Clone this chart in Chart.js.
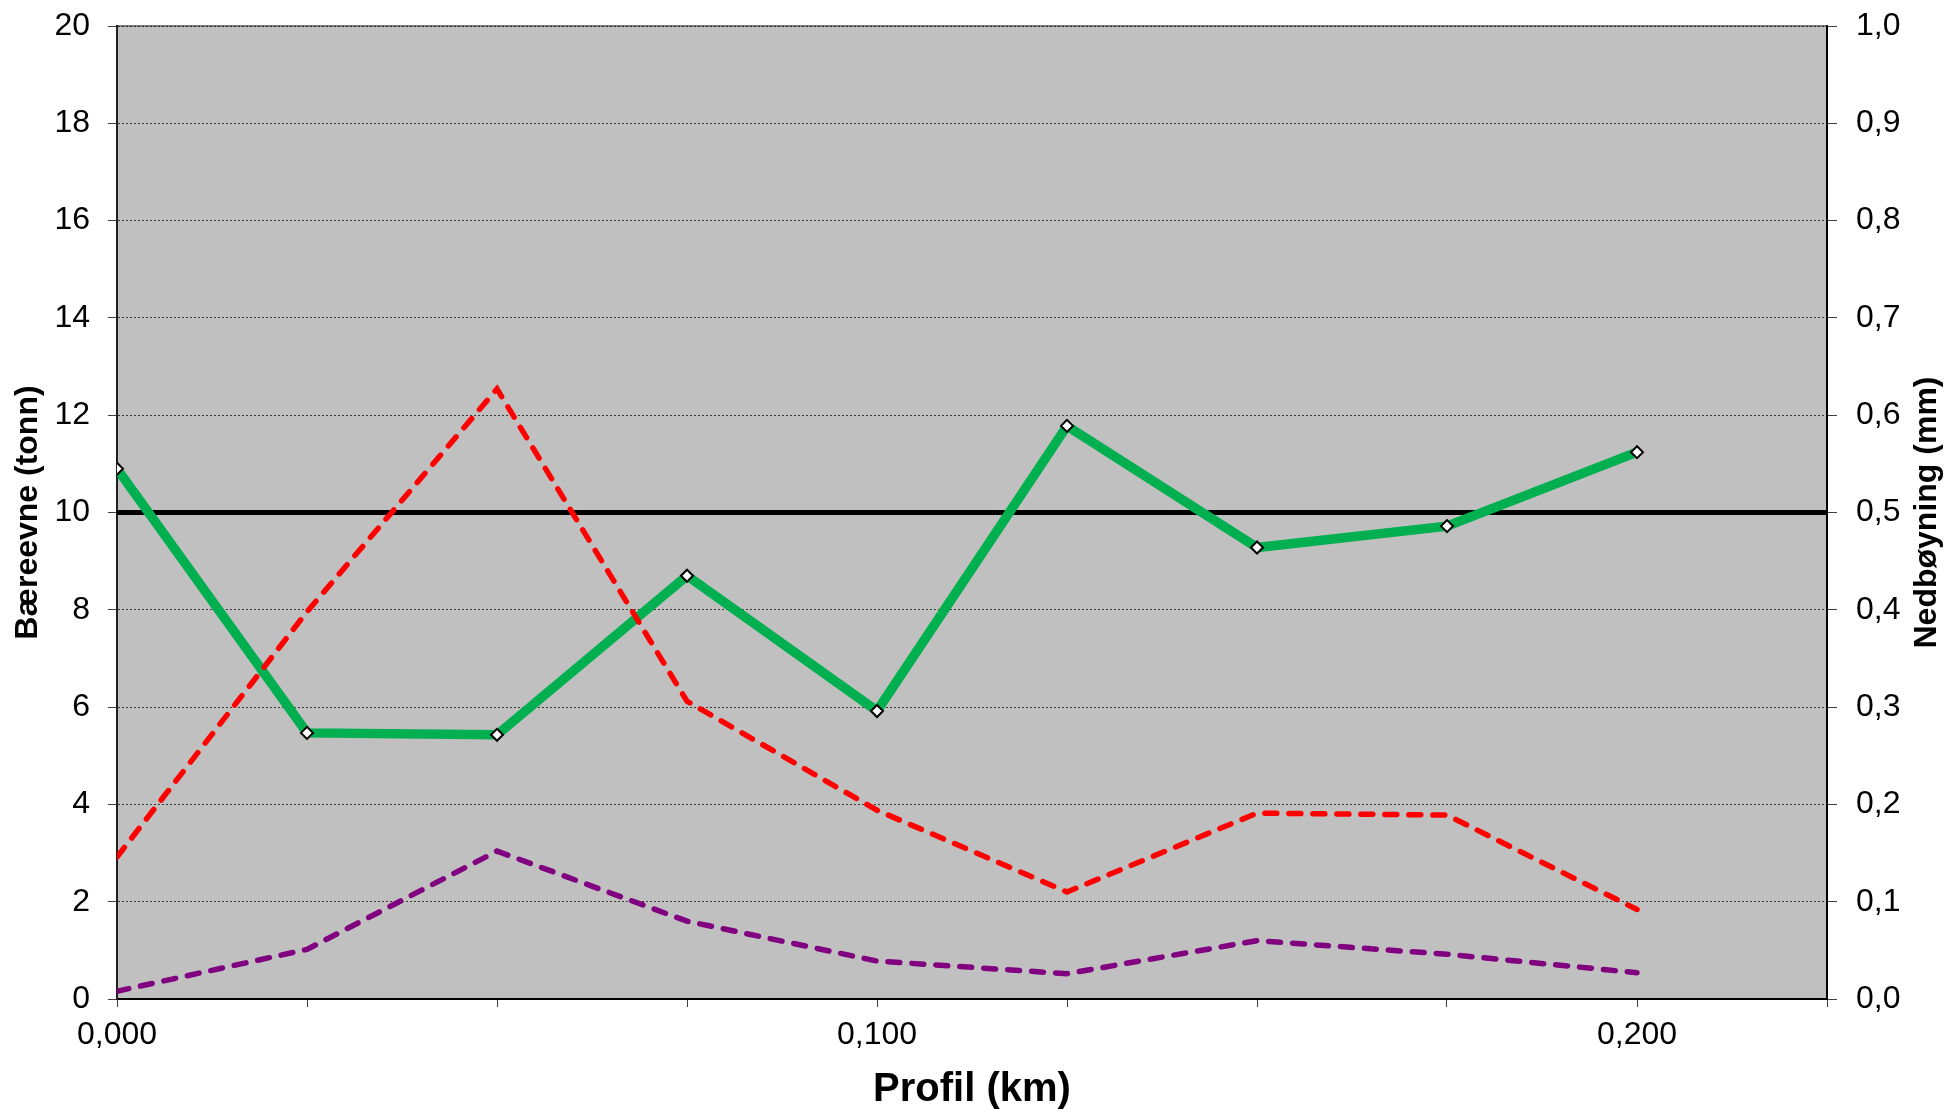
<!DOCTYPE html>
<html>
<head>
<meta charset="utf-8">
<script src="https://cdn.jsdelivr.net/npm/chart.js@4.4.1/dist/chart.umd.min.js"></script>
<style>
  html, body { margin: 0; padding: 0; background: #fff; }
  canvas { display: block; }
</style>
</head>
<body>
<canvas id="chart" width="1951" height="1114"></canvas>
<script>
// profile positions (km)
const profil = [0, 0.025, 0.05, 0.075, 0.1, 0.125, 0.15, 0.175, 0.2];
// bearing capacity, tonn (left axis)
const baereevne = [10.9, 5.47, 5.43, 8.7, 5.92, 11.78, 9.28, 9.72, 11.24];
// deflections, mm (right axis)
const nedboyningRod = [0.146, 0.398, 0.627, 0.306, 0.194, 0.110, 0.191, 0.189, 0.092];
const nedboyningLilla = [0.008, 0.051, 0.152, 0.080, 0.039, 0.026, 0.060, 0.046, 0.027];
// limit line at 10 tonn
const grenseX = [0, 0.225];
const grenseY = [10, 10];

const xTitle = 'Profil (km)';
const leftTitle = 'Bæreevne (tonn)';
const rightTitle = 'Nedbøyning (mm)';

const FONT = "'Liberation Sans', Arial, sans-serif";
Chart.defaults.font.family = FONT;
Chart.defaults.color = '#000';

function pts(xs, ys) {
    return xs.map(function(x, i) { return {x: x, y: ys[i]}; });
}

// keep tick label overflow from pushing the plot area around
function noPad(s) {
    s.paddingTop = 0;
    s.paddingBottom = 0;
    s.paddingLeft = 0;
    s.paddingRight = 0;
}

const plotBg = {
    id: 'plotBg',
    beforeDraw(chart) {
        const a = chart.chartArea;
        const ctx = chart.ctx;
        ctx.save();
        ctx.fillStyle = '#c0c0c0';
        ctx.fillRect(a.left, a.top, a.right - a.left, a.bottom - a.top);
        ctx.strokeStyle = '#808080';
        ctx.lineWidth = 2;
        ctx.strokeRect(a.left, a.top, a.right - a.left, a.bottom - a.top);
        ctx.restore();
    },
    afterDraw(chart) {
        // right axis title reads bottom to top
        const a = chart.chartArea;
        const ctx = chart.ctx;
        ctx.save();
        ctx.translate(chart.width - 24, (a.top + a.bottom) / 2);
        ctx.rotate(-Math.PI / 2);
        ctx.font = 'bold 32px ' + FONT;
        ctx.fillStyle = '#000';
        ctx.textAlign = 'center';
        ctx.textBaseline = 'middle';
        ctx.fillText(rightTitle, 0, 0);
        ctx.restore();
    }
};

new Chart(document.getElementById('chart'), {
    type: 'line',
    data: {
        datasets: [{
            label: 'Nedbøyning 1',
            data: pts(profil, nedboyningRod),
            yAxisID: 'y2',
            borderColor: '#ff0000',
            borderWidth: 5.5,
            borderDash: [12, 12],
            borderCapStyle: 'round',
            pointRadius: 0,
            order: 0
        }, {
            label: 'Nedbøyning 2',
            data: pts(profil, nedboyningLilla),
            yAxisID: 'y2',
            borderColor: '#800080',
            borderWidth: 5.5,
            borderDash: [12, 12],
            borderCapStyle: 'round',
            pointRadius: 0,
            order: 1
        }, {
            label: 'Bæreevne',
            data: pts(profil, baereevne),
            yAxisID: 'y',
            borderColor: '#00b050',
            borderWidth: 9.5,
            pointStyle: 'rectRot',
            pointRadius: 6,
            pointBackgroundColor: '#ffffff',
            pointBorderColor: '#000000',
            pointBorderWidth: 2,
            order: 2
        }, {
            label: 'Grense',
            data: pts(grenseX, grenseY),
            yAxisID: 'y',
            borderColor: '#000000',
            borderWidth: 5,
            pointRadius: 0,
            order: 3
        }]
    },
    options: {
        responsive: false,
        animation: false,
        layout: { padding: { top: 26, left: 0, right: 0, bottom: 0 } },
        plugins: {
            legend: { display: false },
            tooltip: { enabled: false }
        },
        scales: {
            x: {
                type: 'linear',
                min: 0,
                max: 0.225,
                afterFit: function(s) { s.height = 115; noPad(s); },
                ticks: {
                    stepSize: 0.025,
                    autoSkip: false,
                    maxRotation: 0,
                    padding: 9,
                    font: { size: 32 },
                    callback: function(v) {
                        if (Math.abs(v * 10 - Math.round(v * 10)) < 1e-6) {
                            return v.toFixed(3).replace('.', ',');
                        }
                        return '';
                    }
                },
                grid: {
                    drawOnChartArea: false,
                    tickLength: 8,
                    tickColor: '#404040'
                },
                border: { color: '#000', width: 2 },
                title: {
                    display: true,
                    text: xTitle,
                    font: { size: 40, weight: 'bold' },
                    padding: { top: 0, bottom: 0 }
                }
            },
            y: {
                position: 'left',
                min: 0,
                max: 20,
                afterFit: function(s) { s.width = 117; noPad(s); },
                ticks: {
                    stepSize: 2,
                    padding: 18,
                    font: { size: 32 }
                },
                grid: {
                    color: 'rgba(0,0,0,0.7)',
                    lineWidth: 1,
                    tickLength: 9,
                    tickColor: '#404040'
                },
                border: { color: '#202020', width: 2, dash: [2, 2] },
                title: {
                    display: true,
                    text: leftTitle,
                    font: { size: 32, weight: 'bold' },
                    padding: { top: 9, bottom: 0 }
                }
            },
            y2: {
                position: 'right',
                min: 0,
                max: 1,
                afterFit: function(s) { s.width = 124; noPad(s); },
                ticks: {
                    stepSize: 0.1,
                    padding: 19,
                    font: { size: 32 },
                    callback: function(v) { return v.toFixed(1).replace('.', ','); }
                },
                grid: {
                    drawOnChartArea: false,
                    tickLength: 10,
                    tickColor: '#404040'
                },
                border: { color: '#000', width: 2 }
            }
        }
    },
    plugins: [plotBg]
});
</script>
</body>
</html>
